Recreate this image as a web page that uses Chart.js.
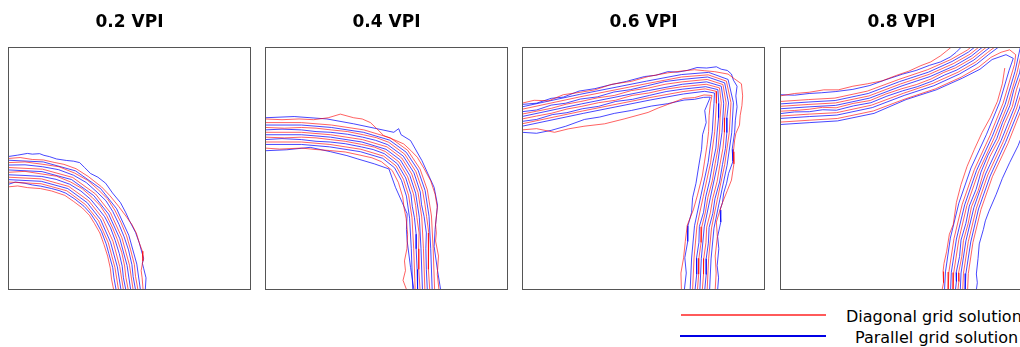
<!DOCTYPE html>
<html>
<head>
<meta charset="utf-8">
<script src="https://cdn.jsdelivr.net/npm/chart.js@4.4.1/dist/chart.umd.min.js"></script>
<style>
  html, body { margin: 0; padding: 0; width: 1020px; height: 347px; overflow: hidden; background: #fff; }
  canvas { position: absolute; top: 0; }
  .key-line { position: absolute; height: 2px; }
  .key-text { position: absolute; font: 16px "DejaVu Sans", sans-serif; color: #000; white-space: nowrap; }
</style>
</head>
<body>
<canvas id="vpi02" width="243" height="290" style="left:8px"></canvas>
<canvas id="vpi04" width="243" height="290" style="left:265px"></canvas>
<canvas id="vpi06" width="243" height="290" style="left:522px"></canvas>
<canvas id="vpi08" width="243" height="290" style="left:780px"></canvas>

<div class="key-line" style="left:681px;top:314px;width:145px;background:#ff5a5a"></div>
<div class="key-text" id="key0" style="left:846px;top:307px"></div>
<div class="key-line" style="left:680px;top:335px;width:146px;background:#0000e6"></div>
<div class="key-text" id="key1" style="left:855px;top:328px"></div>

<script>
// titles and legend
const panelTitles = ["0.2 VPI", "0.4 VPI", "0.6 VPI", "0.8 VPI"];
const legendLabels = ["Diagonal grid solution", "Parallel grid solution"];

// contour lines, panel coords 0..100 (x right, y up)
const vpi02Diagonal = [
  [[0,42.5],[4,42.9],[8,42.2],[13.4,41.8],[18,40.8],[23.4,39],[27,36.5],[30.6,33.8],[33.5,30.8],[35.6,27.4],[37.8,23.5],[39.5,18.7],[41,14],[42.1,9],[42.6,4.5],[43.5,0]],
  [[0,44.5],[13.6,43.8],[24.2,40.9],[31.9,35.2],[37.3,28.5],[41.3,19.4],[44,9.3],[45.5,0]],
  [[0,46.5],[13.8,45.8],[25,42.7],[33.3,36.7],[38.9,29.6],[43.2,20.1],[46,9.6],[47.5,0]],
  [[0,48.5],[7,48.9],[14,47.8],[20,46.9],[25.8,44.5],[30.5,41.8],[34.7,38.1],[38,34.7],[40.6,30.7],[43.1,25.5],[45,20.8],[46.8,15.5],[48,9.9],[48.5,5.2],[49.5,0]],
  [[0,50.5],[14.2,49.8],[26.6,46.4],[36,39.6],[42.2,31.8],[46.9,21.5],[50,10.2],[51.5,0]],
  [[0,52.5],[7,52.8],[14.4,51.8],[21,50.8],[27.4,48.2],[32.8,45.2],[37.4,41.1],[41,37.5],[43.9,33],[46.5,27.8],[48.8,22.3],[50.4,16.8],[52,10.5],[52.5,5.5],[53.5,0]],
  [[0,54.2],[5,54.6],[10,53.8],[14.6,53.6],[19,52.6],[23,51.8],[28,50],[33,46.8],[38.5,42.5],[42,38.8],[45.5,34.5],[48.5,30.5],[51,27],[52.8,23.5],[54,19.5],[55.3,16],[55.5,12],[54.8,8],[55.2,5],[55.6,0]]
];
const vpi02Parallel = [
  [[0,43.5],[3,44.5],[7,44],[10,43.3],[13.5,42.8],[18,41.8],[21,41],[23.8,39.9],[27.5,37.5],[31.3,34.5],[34,31.5],[36.4,27.9],[38.5,24],[40.4,19],[41.5,15],[43.1,9.2],[43.6,5],[44.5,0]],
  [[0,45.5],[13.7,44.8],[24.6,41.8],[32.6,36],[38.1,29],[42.2,19.7],[45,9.5],[46.5,0]],
  [[0,47.5],[7,47.2],[13.9,46.8],[19.8,45.6],[25.4,43.6],[30,40.8],[34,37.4],[37.2,33.5],[39.8,30.2],[42.2,25.6],[44.1,20.5],[45.8,15],[47,9.8],[47.5,5],[48.5,0]],
  [[0,49.5],[14,48.8],[26.2,45.5],[35.3,38.9],[41.4,31.3],[46,21.2],[49,10.1],[50.5,0]],
  [[0,51.5],[7,51.6],[14.3,50.8],[20.8,49.6],[27,47.3],[32.2,44.3],[36.7,40.3],[40.3,36.8],[43.1,32.4],[45.7,27],[47.8,21.9],[49.6,16.5],[51,10.4],[51.5,5.5],[52.5,0]],
  [[0,53.5],[14.5,52.8],[27.8,49.1],[38.1,41.8],[44.7,33.5],[49.7,22.6],[53,10.7],[54.5,0]],
  [[0,55],[4,55.6],[8,56.3],[10,56],[13,56.2],[14.8,55.5],[17,55],[20,54],[24,53.4],[27,53.1],[29.5,52.5],[31.5,50.5],[34,48],[37,46.5],[40.2,44],[43,40],[46.3,36],[48.5,31.8],[50,28.5],[52.5,23.7],[54,19.5],[55.8,13],[55.3,11],[55.8,9],[56.8,5],[56.5,0]]
];

const vpi04Diagonal = [
  [[0,58.5],[6,58.1],[15,58.5],[21,57.9],[26.5,57.5],[33,56.9],[39.1,55.6],[44,54.5],[47.9,52.9],[52.4,49.2],[54.9,44.3],[56.7,38.3],[57.2,34],[58.1,29.4],[58.7,23],[58.4,17],[57.4,12],[57.8,8],[56.8,4],[58.3,0]],
  [[0,61],[15,61],[26.7,60],[39.5,58],[48.8,55.2],[53.9,51.2],[57,45.6],[59.1,39],[60.5,29.7],[61.2,17],[61.8,0]],
  [[0,63],[8,62.7],[15,63],[21,62.7],[26.9,62],[33,61.3],[39.8,60],[45,58.9],[49.5,57.1],[55.1,52.8],[58.7,46.7],[61.1,39.6],[62,34.8],[62.5,29.9],[63.4,23.5],[63.2,17],[63.3,8.5],[63.8,0]],
  [[0,65],[15,65],[27,64],[40.1,62],[50.2,59],[56.3,54.4],[60.4,47.8],[63,40.1],[64.5,30.1],[65.2,17],[65.8,0]],
  [[0,67],[8,66.7],[15,67],[21,66.7],[27.2,66],[34,65.3],[40.4,64],[45.8,62.8],[50.9,60.9],[57.5,56],[62.1,48.8],[64.9,40.7],[65.8,35.4],[66.5,30.3],[67.4,23.5],[67.2,17],[67.3,8.5],[67.8,0]],
  [[0,69],[15,69],[27.4,68],[40.7,66],[51.6,62.7],[58.7,57.6],[63.8,49.9],[66.8,41.3],[68.5,30.5],[69.2,17],[69.8,0]],
  [[0,70.5],[7,70.2],[14,70.5],[20,70.2],[26,71],[31,72.5],[36.5,71],[40,70.5],[43.4,69],[46,66.5],[48.9,63.6],[53,62],[57.1,60.2],[60,57.5],[62.7,54.7],[65.5,50],[68.2,45],[70,39.5],[70.9,34],[70.2,27],[70.5,23.5],[70.2,20.2],[71.4,14],[70.9,6.4],[71.6,0]]
];
const vpi04Parallel = [
  [[0,57.4],[9,57.8],[18.6,58.8],[27,57],[33.7,55.4],[37.9,54.1],[45,52],[51,49.9],[53.7,42.3],[56.5,36],[58.5,31.4],[58.2,25],[58.5,20.3],[59.9,9.3],[61.3,0]],
  [[0,60],[15,60],[26.6,59],[39.3,57],[48.4,54.3],[53.3,50.4],[56.2,45.1],[58.2,38.7],[59.5,29.6],[60.2,17],[60.8,0]],
  [[0,62],[7,62.4],[15,62],[21,61.3],[26.8,61],[33,60.3],[39.6,59],[44.5,57.9],[49.1,56.2],[54.5,52],[57.9,46.2],[60.1,39.3],[60.6,34.5],[61.5,29.8],[62.2,23],[62.2,17],[62.6,8.5],[62.8,0]],
  [[0,64],[15,64],[27,63],[39.9,61],[49.8,58],[55.7,53.6],[59.6,47.2],[62,39.9],[63.5,30],[64.2,17],[64.8,0]],
  [[0,66],[7,66.3],[15,66],[21,65.3],[27.1,65],[34,64.2],[40.2,63],[45.5,61.7],[50.5,59.9],[56.9,55.2],[61.3,48.3],[63.9,40.4],[64.4,35.3],[65.5,30.2],[66.4,23.5],[66.2,17],[66.4,8.5],[66.8,0]],
  [[0,68],[15,68],[27.3,67],[40.5,65],[51.2,61.8],[58.1,56.8],[63,49.4],[65.9,41],[67.5,30.4],[68.2,17],[68.8,0]],
  [[0,71],[12,71.5],[25.5,70.5],[36.5,68.5],[46,66.5],[53,65],[55,66.5],[56,64],[59.9,61.6],[64.6,53.3],[69.6,42.3],[71,35],[70,25],[69.6,18],[71,8],[72.3,0]]
];

const vpi06Diagonal = [
  [[0,66],[6,66.5],[13.4,65],[19,66.4],[25.5,67.5],[34,68.5],[42,70.5],[51.9,73.2],[56,75],[60,76.5],[66.6,79],[71,79.3],[74.9,80.4],[78.2,80.2],[77.5,76.7],[77,72],[76.8,65.3],[76.2,60],[75.1,52.8],[74.2,47],[72.2,39.1],[70.5,33],[68,26.7],[67.2,20],[66.5,13.3],[65.4,7],[65.6,0]],
  [[0,68.5],[25,73.8],[52.5,79.3],[66.3,81.8],[75.4,82.9],[79.9,81.9],[80,76.9],[79.3,65.2],[77.6,52.5],[74.6,38.6],[72,26.4],[70.8,13.2],[70.2,0]],
  [[0,70.5],[6,71.7],[12.3,72.9],[18.5,74.6],[24.6,75.7],[31.5,77.2],[38.4,78.2],[45.3,80.2],[52.2,81.2],[59.2,82.8],[66.1,83.8],[75.8,84.8],[81.3,83.3],[82,77],[81.5,71],[81.3,65.1],[80.7,58.6],[79.5,52.2],[78.3,45],[76.5,38.2],[75.5,32.2],[74,26.1],[73.7,19.6],[72.8,13.1],[72.7,6.5],[72.2,0]],
  [[0,72.5],[6,73.7],[12.1,74.9],[18.2,76.6],[24.2,77.7],[31,79.2],[38,80.2],[45,82.2],[51.8,83.2],[58.9,84.8],[65.9,85.8],[76.2,86.8],[82.7,84.7],[84,77.1],[83.4,71],[83.3,65],[82.7,58.5],[81.5,51.9],[80.3,44.8],[78.5,37.8],[77.5,31.8],[76,25.9],[75.7,19.5],[74.8,13],[74.7,6.5],[74.2,0]],
  [[0,74.5],[23.8,79.6],[51.5,85.1],[65.7,87.8],[76.6,88.7],[84.1,86.1],[86,77.2],[85.3,64.9],[83.4,51.6],[80.4,37.4],[78,25.6],[76.8,12.9],[76.2,0]],
  [[0,77],[5,78.2],[11,78],[17,80.5],[24,81.5],[30,82.5],[37,84.8],[45,86],[52,88],[60,89.5],[66,90.3],[71,90.8],[75,90.4],[79.3,90],[84.8,89],[87.5,87],[90.3,85],[90.8,80],[90.5,76],[89.8,72],[89.5,68],[88,64.5],[87.5,61.8],[87,57],[87.2,52],[86.2,45.3],[84.5,41],[82.5,36],[81.2,32],[80,28],[80.4,22],[79.5,14],[79.9,7],[79.5,0]]
];
const vpi06Parallel = [
  [[0,65],[6,64.6],[12,65.8],[18,67.5],[25.7,70.3],[32,71.3],[38,72.8],[45,74],[53.2,75.8],[60,76.8],[66.7,78.3],[71,78.6],[74.7,79.4],[77.5,79.5],[75.2,74],[75.8,69],[74.3,64],[73.9,58],[72.8,51.5],[71.6,44],[70.2,38],[69.8,32],[68.3,26.5],[68.2,20],[67,13.3],[67.6,7],[66.8,0]],
  [[0,67.5],[25.2,72.8],[52.7,78.3],[66.4,80.8],[75.2,81.9],[79.2,81.2],[79,76.8],[78.3,65.2],[76.6,52.6],[73.6,38.8],[71,26.5],[69.8,13.2],[69.2,0]],
  [[0,69.5],[6,70.3],[12.5,72.3],[18.5,73.1],[24.8,74.7],[31.5,75.7],[38.5,77.7],[45.5,78.6],[52.4,80.2],[59.3,81.8],[66.2,82.8],[75.6,83.8],[80.6,82.6],[81,76.9],[80.9,71],[80.3,65.1],[79.8,58.5],[78.5,52.3],[77.2,45],[75.6,38.4],[74.7,32],[73,26.2],[72.8,19.5],[71.8,13.1],[71.9,6.5],[71.2,0]],
  [[0,71.5],[24.4,76.7],[52,82.2],[66,84.8],[76,85.8],[82,84],[83,77],[82.3,65],[80.5,52],[77.5,38],[75,26],[73.8,13],[73.2,0]],
  [[0,73.5],[6,74.2],[12,76.2],[18,77],[24,78.7],[31,79.6],[37.8,81.6],[44.7,82.6],[51.6,84.2],[58.7,85.9],[65.8,86.8],[76.4,87.8],[83.4,85.4],[85,77.1],[84.3,71],[84.3,64.9],[83.7,58.3],[82.5,51.7],[81.3,44.5],[79.4,37.6],[78.5,31.5],[77,25.8],[76.7,19.3],[75.8,12.9],[75.8,6.4],[75.2,0]],
  [[0,75.5],[23.6,80.6],[51.3,86.1],[65.6,88.8],[76.8,89.7],[84.8,86.8],[87,77.2],[86.3,64.8],[84.4,51.4],[81.4,37.2],[79,25.5],[77.8,12.8],[77.2,0]],
  [[0,76.5],[6,77],[12,79],[17,79.5],[23.5,82],[30,83],[36,84.5],[43,86],[50.5,88],[55,88.5],[60,90],[64,89.8],[68,90.5],[72,91.7],[76,91.5],[80,92],[82,91],[84.5,90.5],[86.2,89],[87,86.5],[88.5,84],[88,80],[88.5,75.5],[87.8,70],[87.5,65],[86.5,58],[86.8,53],[85,48],[84.2,44],[83,40],[82.5,36],[81.5,33],[81.8,28],[80.5,22],[81,17],[80.3,10],[80.9,5],[80.5,0]]
];

const vpi08Diagonal = [
  [[0,69.2],[12.3,70],[23.6,70.7],[38.4,73.8],[51.6,78.8],[63.9,82.9],[74.5,87.7],[81.8,91.9],[86.8,95.9],[91,98],[94.5,99],[97,97],[96.5,93],[95.7,90.3],[91.8,77],[86.4,63.6],[80,49.7],[75,35.4],[71.6,21.2],[69.5,7.4],[69.2,0]],
  [[0,71.7],[12.1,72.5],[23.3,73.1],[37.7,76.2],[50.8,81.1],[63,85.2],[73.3,89.8],[80.4,93.9],[85.4,97.9],[89.4,100.9]],
  [[0,73.7],[6,74],[12,74.5],[17.5,75.3],[23.1,75.1],[30.1,76.9],[37.1,78.1],[43.6,80.8],[50.2,83],[56.2,84.7],[62.2,87],[67.2,89.6],[72.3,91.6],[79.3,95.6],[84.3,99.6],[88.3,102.6]],
  [[0,75.7],[11.9,76.5],[22.8,77.1],[36.6,80],[49.5,84.9],[61.4,88.9],[71.3,93.3],[78.2,97.2],[83.2,101.2]],
  [[0,77.7],[11.8,78.5],[22.6,79.1],[36,82],[48.9,86.8],[60.7,90.8],[70.3,95],[77.1,98.9],[82.1,102.9]],
  [[0,80],[6,81],[12,81.5],[18,82.5],[24,82.5],[30,84],[36,85],[42,86.2],[48,88.5],[53,90.2],[58,92.5],[62,94],[66,96.5],[68.5,98.5],[71,100.5]],
  [[92.5,91.5],[91.5,85],[89.5,77.8],[86.5,71],[83.2,65],[80,58],[77,51],[74.5,43.5],[72.6,36.1],[71.3,27],[69.7,23],[68.6,16],[67.5,11],[67.1,7.6],[67.3,3],[66.7,0]],
  [[100.1,100.7],[97.6,89.8],[93.7,76.3],[88.2,62.8],[81.8,48.9],[76.9,34.8],[73.6,20.8],[71.5,7.2],[71.2,0]],
  [[102,100.2],[100.2,94.6],[99.5,89.3],[97.3,82.5],[95.6,75.6],[92.4,68.6],[90.1,62],[86.4,55],[83.7,48.2],[81.6,41.1],[78.8,34.3],[77.4,27.3],[75.5,20.4],[74.8,13.7],[73.5,7.1],[73.6,3.5],[73.2,0]],
  [[104,99.8],[101.5,88.8],[97.4,75],[91.9,61.2],[85.5,47.4],[80.8,33.7],[77.5,20],[75.5,6.9],[75.2,0]],
  [[105.9,99.3],[103.4,88.3],[99.3,74.3],[93.8,60.4],[87.4,46.7],[82.7,33.2],[79.4,19.6],[77.5,6.8],[77.2,0]]
];
const vpi08Parallel = [
  [[0,68.2],[12.3,69],[23.7,69.7],[38.7,72.8],[51.9,78.5],[64.3,82.5],[75,87.3],[82.3,91],[87.3,95],[93,97],[96,95.5],[94.3,90.6],[90.4,77.4],[85,64.2],[78.6,50.3],[73.6,35.8],[70.1,21.4],[68.1,7.5],[67.7,0]],
  [[0,70.7],[12.2,71.5],[23.4,72.1],[38,75.2],[51.1,80.2],[63.3,84.2],[73.8,89],[80.9,93.1],[85.9,97.1],[89.9,100.1]],
  [[0,72.7],[6,73.4],[12.1,73.5],[17.6,74.3],[23.2,74.1],[30.3,75.9],[37.4,77.2],[44,79.9],[50.5,82.1],[56.5,83.8],[62.6,86.1],[67.7,88.6],[72.8,90.7],[79.8,94.8],[84.8,98.8],[88.8,101.8]],
  [[0,74.7],[12,75.5],[22.9,76.1],[36.9,79.1],[49.8,84],[61.8,88],[71.8,92.4],[78.7,96.4],[83.7,100.4]],
  [[0,76.7],[11.9,77.5],[22.7,78.1],[36.3,81],[49.2,85.9],[61.1,89.8],[70.8,94.2],[77.6,98.1],[82.6,102.1]],
  [[0,80.5],[6,80.3],[12,81],[17,81.3],[23,81.8],[30,82.7],[37,84.3],[43,86.5],[50.5,89],[56,90.5],[61.5,92.6],[66,94],[70,96],[72.5,98],[75,100.5]],
  [[99.1,100.9],[96.7,90],[92.7,76.6],[87.3,63.2],[80.9,49.3],[76,35.1],[72.6,21],[70.5,7.3],[70.2,0]],
  [[101.1,100.4],[99.5,95],[98.6,89.5],[96.2,82.5],[94.6,76],[91.6,69],[89.2,62.4],[85.6,55.6],[82.7,48.6],[80.7,41.5],[77.9,34.6],[76.5,27.5],[74.5,20.6],[73.9,13.8],[72.5,7.2],[72.6,3.5],[72.2,0]],
  [[103,100],[100.5,89],[96.5,75.3],[91,61.6],[84.6,47.8],[79.8,34],[76.5,20.2],[74.5,7],[74.2,0]],
  [[104.9,99.6],[102.4,88.5],[98.4,74.6],[92.8,60.8],[86.5,47],[81.7,33.4],[78.5,19.8],[76.5,6.8],[76.2,0]],
  [[108,99],[106.5,94],[106,88],[104.5,81],[103,73.5],[100.5,66],[98,59.5],[94.5,52.5],[91.5,46],[89,39.5],[86,32.5],[84.5,28.5],[83.7,25],[82,19],[81.5,13],[80.8,6.6],[81.2,3],[80.8,0]]
];

const diagonalColor = "rgba(255, 0, 0, 0.62)";
const parallelColor = "rgba(0, 0, 255, 0.72)";

// box round the plot area
const framePlugin = {
  id: "frame",
  afterDraw(chart) {
    const { ctx, chartArea } = chart;
    const top = Math.round(chartArea.top);
    ctx.save();
    ctx.strokeStyle = "#555";
    ctx.lineWidth = 1;
    ctx.strokeRect(0.5, top + 0.5, chart.width - 1, chart.height - top - 1);
    ctx.restore();
  },
};

function toDatasets(lines, color) {
  return lines.map((line) => ({
    data: line.map(([x, y]) => ({ x, y })),
    showLine: true,
    borderColor: color,
    borderWidth: 1,
    pointRadius: 0,
    tension: 0,
    fill: false,
  }));
}

function drawPanel(id, title, diagonal, parallel) {
  new Chart(document.getElementById(id), {
    type: "scatter",
    data: {
      datasets: [...toDatasets(diagonal, diagonalColor), ...toDatasets(parallel, parallelColor)],
    },
    options: {
      responsive: false,
      animation: false,
      devicePixelRatio: 1,
      layout: { padding: 0 },
      plugins: {
        legend: { display: false },
        tooltip: { enabled: false },
        title: {
          display: true,
          text: title,
          color: "#000",
          font: { family: "'DejaVu Sans', sans-serif", size: 17, weight: "bold" },
          padding: { top: 12, bottom: 15 },
        },
      },
      scales: {
        x: { type: "linear", min: 0, max: 100, display: false },
        y: { type: "linear", min: 0, max: 100, display: false },
      },
    },
    plugins: [framePlugin],
  });
}

drawPanel("vpi02", panelTitles[0], vpi02Diagonal, vpi02Parallel);
drawPanel("vpi04", panelTitles[1], vpi04Diagonal, vpi04Parallel);
drawPanel("vpi06", panelTitles[2], vpi06Diagonal, vpi06Parallel);
drawPanel("vpi08", panelTitles[3], vpi08Diagonal, vpi08Parallel);

document.getElementById("key0").textContent = legendLabels[0];
document.getElementById("key1").textContent = legendLabels[1];
</script>
</body>
</html>
